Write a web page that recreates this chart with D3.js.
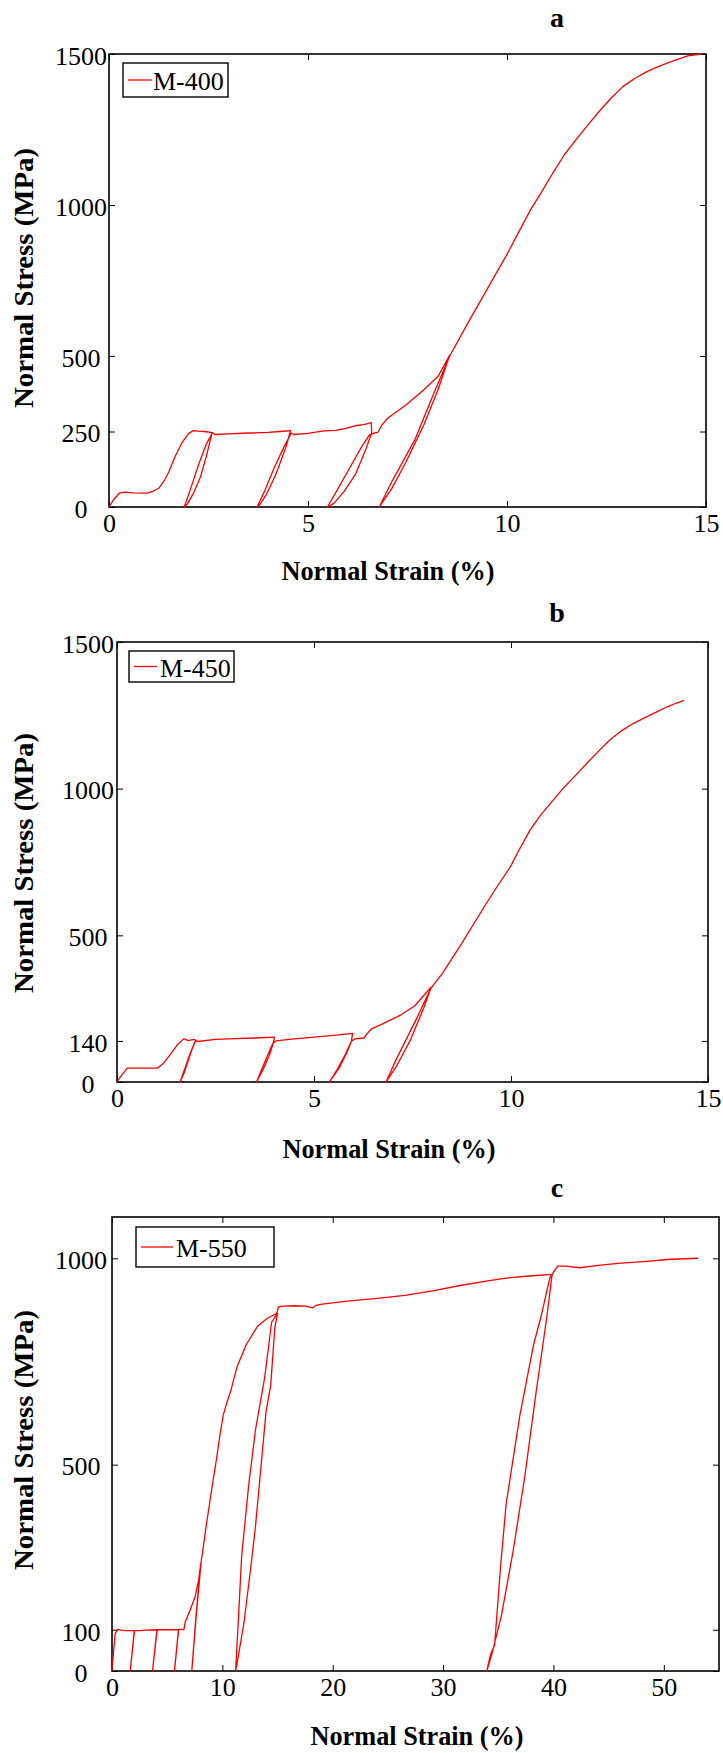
<!DOCTYPE html>
<html>
<head>
<meta charset="utf-8">
<script src="https://cdn.jsdelivr.net/npm/d3@7"></script>
<style>
  body { margin: 0; background: #fff; }
  svg text { font-family: "Liberation Serif", "Times New Roman", serif; fill: #000; }
</style>
</head>
<body>
<div id="chart"></div>
<script>
// ---- data (strain in %, stress in MPa), in loading order ----
const strainA = [0, 0.12, 0.27, 0.4, 0.6, 0.96, 1.1, 1.25, 1.4, 1.5, 1.66, 1.83, 2.0, 2.12, 2.25, 2.4, 2.59,
  2.45, 2.3, 2.12, 1.98, 1.89,
  2.05, 2.25, 2.45, 2.6, 2.66, 3.0, 3.5, 4.0, 4.3, 4.56,
  4.45, 4.2, 3.95, 3.8, 3.72,
  3.9, 4.15, 4.4, 4.58, 4.64, 5.0, 5.39, 5.7, 6.0, 6.18, 6.4, 6.59, 6.6,
  6.45, 6.2, 5.9, 5.65, 5.49,
  5.75, 6.05, 6.35, 6.55, 6.7, 6.75, 6.85, 7.0, 7.46, 7.92, 8.27, 8.56,
  8.27, 7.92, 7.46, 7.1, 6.79,
  7.11, 7.69, 8.16, 8.56, 9.05, 9.43, 10.01, 10.3, 10.59, 10.9, 11.17, 11.45, 11.75, 12.05, 12.33,
  12.6, 12.91, 13.2, 13.49, 13.8, 14.07, 14.54, 14.88];
const stressA = [0, 25, 47, 49, 47, 46, 52, 62, 90, 115, 167, 212, 243, 253, 251, 250, 246,
  170, 100, 45, 12, 0,
  60, 140, 210, 246, 240, 242, 245, 247, 250, 253,
  200, 110, 40, 10, 0,
  50, 130, 200, 245, 240, 244, 252, 254, 262, 269, 273, 279, 245,
  190, 110, 50, 12, 0,
  60, 130, 200, 240, 246, 246, 270, 294, 338, 389, 433, 503,
  389, 275, 148, 60, 0,
  85, 224, 376, 500, 617, 705, 839, 912, 984, 1050, 1110, 1168, 1219, 1268, 1312,
  1352, 1392, 1418, 1440, 1458, 1472, 1494, 1500];

const strainB = [0, 0.1, 0.26, 0.5, 1.02, 1.1, 1.19, 1.37, 1.54, 1.69, 1.75, 1.8, 1.95, 2.0,
  1.9, 1.8, 1.7, 1.6,
  1.72, 1.85, 1.97, 2.02, 2.05, 2.5, 3.0, 3.5, 4.0,
  3.95, 3.85, 3.7, 3.54,
  3.68, 3.82, 3.95, 4.03, 4.5, 5.0, 5.5, 5.98,
  5.95, 5.85, 5.65, 5.39,
  5.6, 5.8, 5.95, 6.02, 6.04, 6.27, 6.35, 6.45, 6.74, 7.21, 7.56, 7.97,
  7.79, 7.44, 7.09, 6.83,
  7.09, 7.56, 7.97, 8.26, 8.73, 9.31, 9.66, 9.99, 10.2, 10.48, 10.75, 11.06, 11.35, 11.65,
  11.95, 12.23, 12.5, 12.81, 13.1, 13.4, 13.7, 13.98, 14.2, 14.39];
const stressB = [0, 20, 47, 47, 47, 55, 65, 97, 128, 147, 145, 141, 145, 142,
  110, 70, 30, 0,
  45, 95, 135, 140, 138, 145, 148, 150, 153,
  125, 85, 40, 0,
  45, 90, 130, 140, 147, 153, 159, 166,
  140, 105, 50, 0,
  45, 95, 140, 145, 147, 150, 165, 180, 198, 229, 260, 323,
  254, 141, 53, 0,
  78, 204, 320, 370, 468, 595, 669, 735, 790, 858, 910, 959, 1005, 1047,
  1090, 1129, 1165, 1198, 1222, 1242, 1262, 1280, 1292, 1301];

const strainC = [0, 0.15, 0.29, 0.5, 0.79, 1.2, 2.02, 1.65, 2.04, 2.5, 3.0, 4.07, 3.67, 4.09,
  5.0, 6.02, 5.66, 6.04, 6.24, 6.5, 6.54, 6.63, 7.08, 7.53, 7.85, 8.05,
  7.6, 7.23, 7.65, 8.1, 8.21, 8.5, 8.83, 9.15, 9.46, 9.8, 10.08, 10.4, 10.71, 11.33, 12.17,
  13.21, 14.04, 14.6, 15.0,
  14.75, 14.38, 13.96, 13.0, 12.58, 11.96, 11.33, 11.2,
  11.5, 11.75, 12.38, 13.0, 13.83, 14.46, 14.88, 15.08, 15.5, 16.54, 17.5, 18.2, 18.5, 19.04,
  21.54, 24.04, 26.54, 29.04, 31.54, 34.04, 35.7, 37.8, 39.88,
  39.6, 39.38, 38.42, 37.38, 36.33, 35.29, 34.46, 33.96,
  34.3, 34.67, 35.2, 35.71, 36.96, 38.2, 38.83, 39.67, 40.1, 40.38, 41.13, 42.4, 44.04,
  46.1, 48.2, 50.3, 53.1];
const stressC = [0, 50, 90, 101, 99, 98, 98, 0, 98, 98, 99, 100, 0, 100,
  100, 100, 0, 101, 101, 100, 104, 119, 148, 180, 220, 262,
  130, 0, 140, 270, 288, 345, 404, 460, 512, 575, 620, 650, 674, 737, 791,
  836, 854, 862, 867,
  831, 692, 629, 350, 252, 117, 18, 0,
  150, 279, 449, 584, 710, 845, 862, 882, 884, 885, 884, 880, 886, 889,
  897, 903, 910, 921, 934, 945, 952, 957, 961,
  900, 854, 674, 467, 288, 135, 45, 0,
  40, 63, 250, 404, 620, 791, 854, 952, 970, 981, 981, 977, 983,
  988, 992, 997, 1000];

const xTicksA = [0, 5, 10, 15];
const yTicksA = [0, 250, 500, 1000, 1500];
const xTicksB = [0, 5, 10, 15];
const yTicksB = [0, 140, 500, 1000, 1500];
const xTicksC = [0, 10, 20, 30, 40, 50];
const yTicksC = [0, 100, 500, 1000];

const seriesNames = ['M-400', 'M-450', 'M-550'];
const panelLetters = ['a', 'b', 'c'];

const svg = d3.select('#chart')
  .append('svg')
  .attr('width', 723)
  .attr('height', 1753);

class createStressChart {
  constructor(_config, _strain, _stress, _xTicks, _yTicks, _name, _letter) {
    this.config = _config;
    this.data = _strain.map((s, i) => ({ strain: s, stress: _stress[i] }));
    this.xTicks = _xTicks;
    this.yTicks = _yTicks;
    this.name = _name;
    this.letter = _letter;
    this.initVis();
  }

  initVis() {
    let vis = this;
    const c = vis.config;
    const fmt = d3.format('d');

    vis.xScale = d3.scaleLinear().domain([0, c.xMax]).range([c.left, c.right]);
    vis.yScale = d3.scaleLinear().domain([0, c.yMax]).range([c.bottom, c.top]);

    // frame
    svg.append('rect')
      .attr('x', c.left)
      .attr('y', c.top)
      .attr('width', c.right - c.left)
      .attr('height', c.bottom - c.top)
      .attr('fill', 'none')
      .attr('stroke', '#000')
      .attr('stroke-width', 1.6);

    // inward ticks on all four sides
    const bottomAxis = svg.append('g')
      .attr('transform', `translate(0, ${c.bottom})`)
      .call(d3.axisBottom(vis.xScale).tickValues(vis.xTicks).tickFormat(fmt)
        .tickSize(-6).tickSizeOuter(0).tickPadding(7));
    svg.append('g')
      .attr('transform', `translate(0, ${c.top})`)
      .call(d3.axisTop(vis.xScale).tickValues(vis.xTicks).tickSize(-6).tickSizeOuter(0).tickFormat(''));
    const leftAxis = svg.append('g')
      .attr('transform', `translate(${c.left}, 0)`)
      .call(d3.axisLeft(vis.yScale).tickValues(vis.yTicks).tickFormat(fmt)
        .tickSize(-6).tickSizeOuter(0));
    svg.append('g')
      .attr('transform', `translate(${c.right}, 0)`)
      .call(d3.axisRight(vis.yScale).tickValues(vis.yTicks).tickSize(-6).tickSizeOuter(0).tickFormat(''));

    svg.selectAll('.domain').remove();

    bottomAxis.selectAll('text')
      .attr('font-size', 26)
      .style('font-family', '"Liberation Serif", serif');
    leftAxis.selectAll('text')
      .attr('x', c.tickLabelX - c.left)
      .attr('y', 2)
      .attr('text-anchor', 'middle')
      .attr('font-size', 26)
      .style('font-family', '"Liberation Serif", serif');

    // curve
    const line = d3.line()
      .x(d => vis.xScale(d.strain))
      .y(d => vis.yScale(d.stress));

    svg.append('path')
      .datum(vis.data)
      .attr('d', line)
      .attr('fill', 'none')
      .attr('stroke', '#ff0000')
      .attr('stroke-width', 1.3)
      .attr('stroke-linejoin', 'round');

    // legend
    const lg = c.legend;
    svg.append('rect')
      .attr('x', lg.x)
      .attr('y', lg.y)
      .attr('width', lg.w)
      .attr('height', lg.h)
      .attr('fill', '#fff')
      .attr('stroke', '#000')
      .attr('stroke-width', 1.4);
    svg.append('line')
      .attr('x1', lg.x + 5)
      .attr('x2', lg.x + 5 + lg.lineLen)
      .attr('y1', lg.y + lg.h / 2)
      .attr('y2', lg.y + lg.h / 2)
      .attr('stroke', '#ff0000')
      .attr('stroke-width', 1.3);
    svg.append('text')
      .attr('x', lg.x + lg.textDx)
      .attr('y', lg.y + lg.h / 2 + 10)
      .attr('font-size', 26)
      .text(vis.name);

    // panel letter
    svg.append('text')
      .attr('x', 557)
      .attr('y', c.titleY)
      .attr('text-anchor', 'middle')
      .attr('font-size', 28)
      .attr('font-weight', 'bold')
      .text(vis.letter);

    // axis labels
    svg.append('text')
      .attr('transform', `translate(24, ${c.yLabelY}) rotate(-90)`)
      .attr('text-anchor', 'middle')
      .attr('dominant-baseline', 'central')
      .attr('font-size', 27)
      .attr('font-weight', 'bold')
      .attr('textLength', 260)
      .attr('lengthAdjust', 'spacingAndGlyphs')
      .text('Normal Stress (MPa)');

    svg.append('text')
      .attr('x', c.xLabelX)
      .attr('y', c.xLabelY)
      .attr('text-anchor', 'middle')
      .attr('dominant-baseline', 'central')
      .attr('font-size', 27)
      .attr('font-weight', 'bold')
      .attr('textLength', 213)
      .attr('lengthAdjust', 'spacingAndGlyphs')
      .text('Normal Strain (%)');
  }
}

new createStressChart({
  left: 109, right: 706, top: 54, bottom: 507, xMax: 15, yMax: 1500,
  tickLabelX: 81, titleY: 27, yLabelY: 278, xLabelX: 388, xLabelY: 571,
  legend: { x: 123, y: 63, w: 105, h: 34, lineLen: 24, textDx: 30 }
}, strainA, stressA, xTicksA, yTicksA, seriesNames[0], panelLetters[0]);

new createStressChart({
  left: 117, right: 708, top: 642, bottom: 1082, xMax: 15, yMax: 1500,
  tickLabelX: 88, titleY: 622, yLabelY: 863, xLabelX: 389, xLabelY: 1149,
  legend: { x: 129, y: 651, w: 105, h: 31, lineLen: 23, textDx: 31 }
}, strainB, stressB, xTicksB, yTicksB, seriesNames[1], panelLetters[1]);

new createStressChart({
  left: 112, right: 719, top: 1217, bottom: 1671, xMax: 55, yMax: 1100,
  tickLabelX: 81, titleY: 1197, yLabelY: 1440, xLabelX: 417, xLabelY: 1736,
  legend: { x: 136, y: 1227, w: 138, h: 40, lineLen: 32, textDx: 40 }
}, strainC, stressC, xTicksC, yTicksC, seriesNames[2], panelLetters[2]);
</script>
</body>
</html>
